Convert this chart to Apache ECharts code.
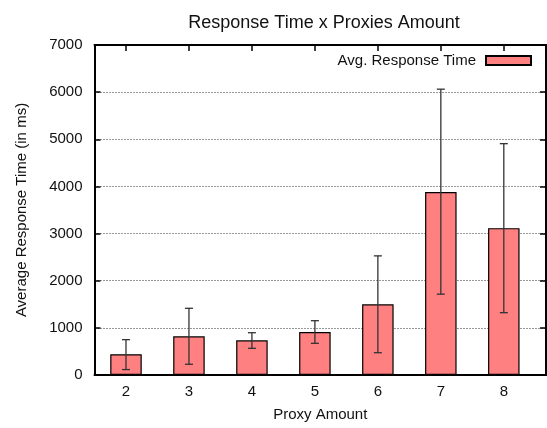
<!DOCTYPE html>
<html>
<head>
<meta charset="utf-8">
<script src="https://cdn.jsdelivr.net/npm/echarts@6/dist/echarts.min.js"></script>
<style>
html,body{margin:0;padding:0;background:#fff;}
#c{width:547px;height:428px;}
</style>
</head>
<body>
<div id="c"></div>
<script>
var titleText = 'Response Time x Proxies Amount';
var xName = 'Proxy Amount';
var yName = 'Average Response Time (in ms)';
var seriesName = 'Avg. Response Time';
var proxies = [2, 3, 4, 5, 6, 7, 8];
var avgTime = [440, 820, 735, 910, 1500, 3880, 3115];
var errLow  = [115, 228, 566, 672, 473, 1715, 1322];
var errHigh = [750, 1415, 897, 1152, 2527, 6063, 4907];
var yTicks = [0, 1000, 2000, 3000, 4000, 5000, 6000, 7000];

var FONT = 'Liberation Sans, Arial, Helvetica, sans-serif';
var barData = proxies.map(function (p, i) { return [p, avgTime[i]]; });
var errData = proxies.map(function (p, i) { return [p, errLow[i], errHigh[i]]; });

var chart = echarts.init(document.getElementById('c'), null, {renderer: 'canvas'});
var xCommon = {
  type: 'value', min: 1.5, max: 8.67,
  axisLine: {show: true, onZero: false, lineStyle: {color: '#000', width: 2}},
  splitLine: {show: false}
};
var yCommon = {
  type: 'value', min: 0, max: 7000, interval: 1000
};
chart.setOption({
  animation: false,
  textStyle: {fontFamily: FONT},
  grid: {left: 94.5, right: 1, top: 45, bottom: 53, containLabel: false},
  graphic: [{
    type: 'text', x: 324, y: 23,
    style: {text: titleText, fontSize: 18, fontFamily: FONT, fill: '#111', textAlign: 'center', textVerticalAlign: 'middle'}
  }],
  legend: {
    right: 10, top: 48, align: 'right', itemWidth: 45, itemHeight: 9, itemGap: 0,
    textStyle: {fontSize: 15, fontFamily: FONT, color: '#111', padding: [0, 5, 0, 0]},
    data: [{name: seriesName, icon: 'rect'}]
  },
  xAxis: [
    Object.assign({}, xCommon, {
      position: 'bottom',
      name: xName, nameLocation: 'middle', nameGap: 32,
      nameTextStyle: {fontSize: 15, color: '#111', fontFamily: FONT},
      axisTick: {show: true, inside: true, length: 6, customValues: proxies, lineStyle: {color: '#000', width: 1.5}},
      axisLabel: {show: true, customValues: proxies, fontSize: 15, color: '#111', margin: 9, fontFamily: FONT}
    }),
    Object.assign({}, xCommon, {
      position: 'top',
      axisTick: {show: true, inside: true, length: 6, customValues: proxies, lineStyle: {color: '#000', width: 1.5}},
      axisLabel: {show: false}
    })
  ],
  yAxis: [
    Object.assign({}, yCommon, {
      position: 'left',
      name: yName, nameLocation: 'middle', nameGap: 65,
      nameTextStyle: {fontSize: 15, color: '#111', fontFamily: FONT},
      axisLine: {show: true, onZero: false, lineStyle: {color: '#000', width: 2}},
      axisTick: {show: true, inside: true, length: 6, lineStyle: {color: '#000', width: 1.5}},
      axisLabel: {fontSize: 15, color: '#111', margin: 12, fontFamily: FONT, formatter: function (v) { return String(v); }},
      splitLine: {show: true, lineStyle: {color: '#333', type: [1, 2], width: 1}}
    }),
    Object.assign({}, yCommon, {
      position: 'right',
      axisLine: {show: true, onZero: false, lineStyle: {color: '#000', width: 2}},
      axisTick: {show: true, inside: true, length: 6, lineStyle: {color: '#000', width: 1.5}},
      axisLabel: {show: false},
      splitLine: {show: false}
    })
  ],
  series: [
    {
      name: seriesName, type: 'bar', xAxisIndex: 0, yAxisIndex: 0,
      barWidth: 31.5, data: barData,
      itemStyle: {color: '#ff8080', borderColor: '#000', borderWidth: 1.2}
    },
    {
      name: 'err', type: 'custom', xAxisIndex: 0, yAxisIndex: 0, data: errData, z: 5,
      encode: {x: 0, y: [1, 2]},
      renderItem: function (params, api) {
        var x = api.value(0);
        var lo = api.coord([x, api.value(1)]);
        var hi = api.coord([x, api.value(2)]);
        var hw = 4;
        var st = {stroke: '#333', lineWidth: 1.3};
        return {
          type: 'group',
          children: [
            {type: 'line', shape: {x1: lo[0], y1: lo[1], x2: hi[0], y2: hi[1]}, style: st},
            {type: 'line', shape: {x1: lo[0] - hw, y1: lo[1], x2: lo[0] + hw, y2: lo[1]}, style: st},
            {type: 'line', shape: {x1: hi[0] - hw, y1: hi[1], x2: hi[0] + hw, y2: hi[1]}, style: st}
          ]
        };
      }
    }
  ]
});
</script>
</body>
</html>
